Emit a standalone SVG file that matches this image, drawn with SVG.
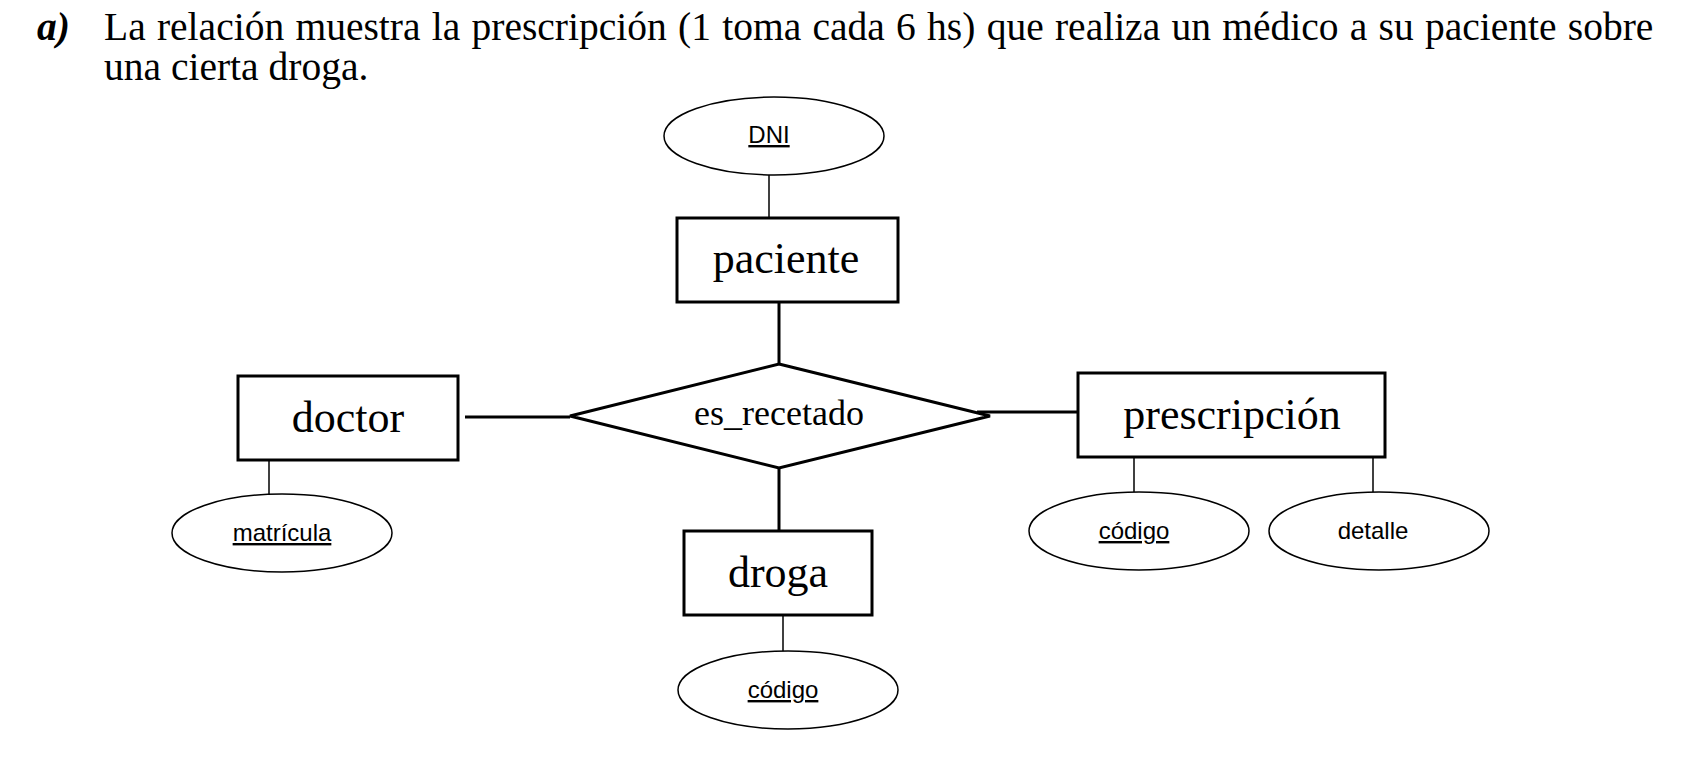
<svg xmlns="http://www.w3.org/2000/svg" width="1702" height="767" viewBox="0 0 1702 767">
<style>
.bg{fill:#fff}
.title{font-family:"Liberation Serif","Times New Roman",serif;font-size:39.5px;fill:#000}
.ent rect{fill:#fff;stroke:#000;stroke-width:3}
.ent text{font-family:"Liberation Serif","Times New Roman",serif;font-size:44px;fill:#000;text-anchor:middle}
.rel polygon{fill:#fff;stroke:#000;stroke-width:3}
.rel text{font-family:"Liberation Serif","Times New Roman",serif;font-size:36px;fill:#000;text-anchor:middle}
.att ellipse{fill:#fff;stroke:#000;stroke-width:1.5}
.att text{font-family:"Liberation Sans",Arial,sans-serif;font-size:24px;fill:#000;text-anchor:middle}
.key{text-decoration:underline}
.thick{stroke:#000;stroke-width:3;fill:none}
.thin{stroke:#000;stroke-width:1.5;fill:none}
</style>
<rect class="bg" x="0" y="0" width="1702" height="767"/>
<g id="title">
<text class="title" x="37" y="40" font-weight="bold" font-style="italic">a)</text>
<text class="title" x="104" y="40" word-spacing="1.4">La relación muestra la prescripción (1 toma cada 6 hs) que realiza un médico a su paciente sobre</text>
<text class="title" x="104" y="80">una cierta droga.</text>
</g>
<g id="connectors">
<line class="thin" x1="769" y1="175" x2="769" y2="218"/>
<line class="thick" x1="779" y1="302" x2="779" y2="364"/>
<line class="thick" x1="465" y1="417" x2="570" y2="417"/>
<line class="thick" x1="977" y1="412" x2="1078" y2="412"/>
<line class="thick" x1="779" y1="468" x2="779" y2="531"/>
<line class="thin" x1="269" y1="460" x2="269" y2="494"/>
<line class="thin" x1="783" y1="615" x2="783" y2="652"/>
<line class="thin" x1="1134" y1="457" x2="1134" y2="492"/>
<line class="thin" x1="1373" y1="457" x2="1373" y2="492"/>
</g>
<g id="paciente" class="ent"><rect x="677" y="218" width="221" height="84"/><text x="786" y="273">paciente</text></g>
<g id="doctor" class="ent"><rect x="238" y="376" width="220" height="84"/><text x="348" y="432">doctor</text></g>
<g id="prescripcion" class="ent"><rect x="1078" y="373" width="307" height="84"/><text x="1232" y="429">prescripción</text></g>
<g id="droga" class="ent"><rect x="684" y="531" width="188" height="84"/><text x="778" y="587">droga</text></g>
<g id="es_recetado" class="rel"><polygon points="779,364 990,416 779,468 570,416"/><text x="779" y="425">es_recetado</text></g>
<g id="dni" class="att"><ellipse cx="774" cy="136" rx="110" ry="39"/><text class="key" x="769" y="143">DNI</text></g>
<g id="matricula" class="att"><ellipse cx="282" cy="533" rx="110" ry="39"/><text class="key" x="282" y="541">matrícula</text></g>
<g id="codigo_droga" class="att"><ellipse cx="788" cy="690" rx="110" ry="39"/><text class="key" x="783" y="698">código</text></g>
<g id="codigo_prescripcion" class="att"><ellipse cx="1139" cy="531" rx="110" ry="39"/><text class="key" x="1134" y="539">código</text></g>
<g id="detalle" class="att"><ellipse cx="1379" cy="531" rx="110" ry="39"/><text x="1373" y="539">detalle</text></g>
</svg>
